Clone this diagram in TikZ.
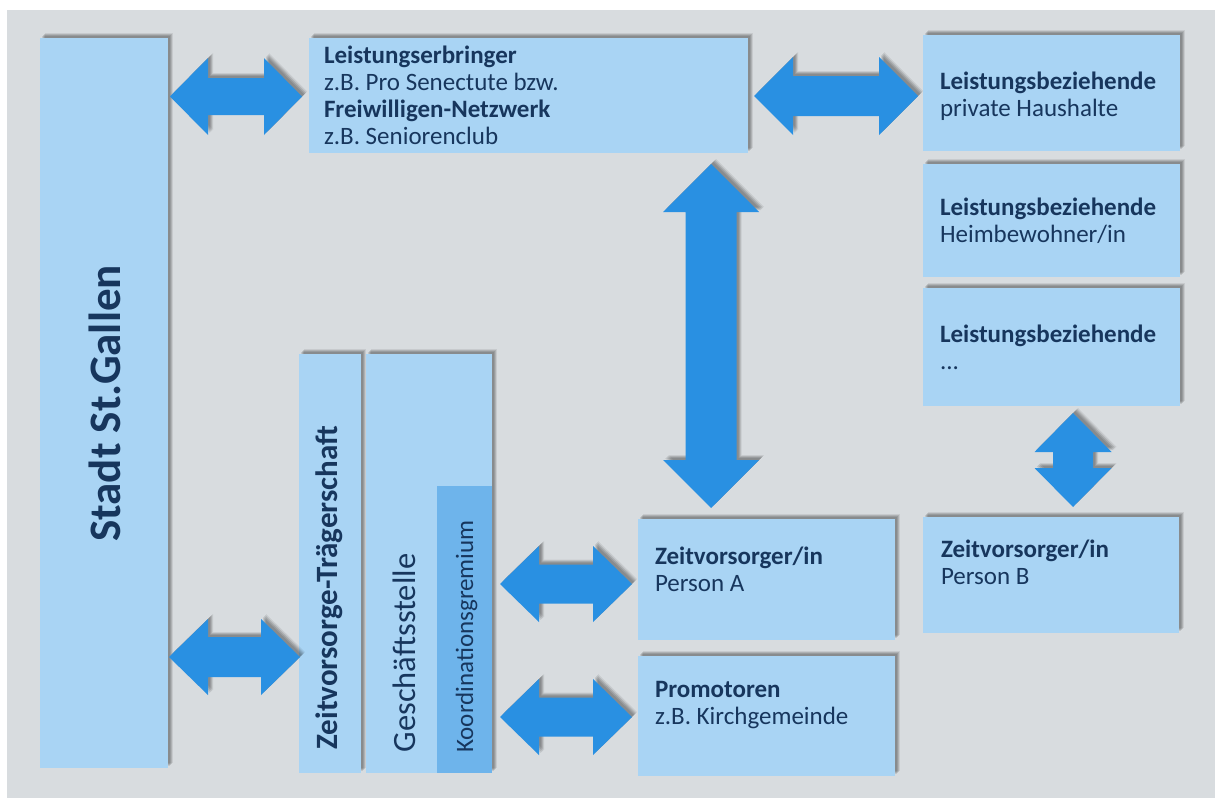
\documentclass[tikz,border=0pt]{standalone}
\usepackage{fontspec}
\setmainfont{Carlito}
\usetikzlibrary{calc}
\definecolor{bggrey}{HTML}{D8DCDF}
\definecolor{boxblue}{HTML}{A9D4F4}
\definecolor{koordblue}{HTML}{6EB4EB}
\definecolor{arrowblue}{HTML}{2990E2}
\definecolor{navy}{HTML}{17365D}
\newcommand{\fstrut}{\rule{0pt}{16pt}}
% horizontal fat double arrow: #1 left tip, #2 right tip, #3 head half width, #4 shaft half width, #5 head length
\newcommand{\fatH}[5]{%
  \fill[fatarrow] (#1) -- ($(#1)+(#5,-#3)$) -- ($(#1)+(#5,-#4)$) -- ($(#2)+(-#5,-#4)$) -- ($(#2)+(-#5,-#3)$) -- (#2)
    -- ($(#2)+(-#5,#3)$) -- ($(#2)+(-#5,#4)$) -- ($(#1)+(#5,#4)$) -- ($(#1)+(#5,#3)$) -- cycle;}
% vertical fat double arrow: #1 top tip, #2 bottom tip
\newcommand{\fatV}[5]{%
  \fill[fatarrow] (#1) -- ($(#1)+(#3,#5)$) -- ($(#1)+(#4,#5)$) -- ($(#2)+(#4,-#5)$) -- ($(#2)+(#3,-#5)$) -- (#2)
    -- ($(#2)+(-#3,-#5)$) -- ($(#2)+(-#4,-#5)$) -- ($(#1)+(-#4,#5)$) -- ($(#1)+(-#3,#5)$) -- cycle;}
\tikzset{
  softshadow/.style={
    preaction={fill=black, fill opacity=0.10, transform canvas={xshift=2pt,yshift=2pt}},
    preaction={fill=black, fill opacity=0.12, transform canvas={xshift=3pt,yshift=3pt}},
    preaction={fill=black, fill opacity=0.12, transform canvas={xshift=4pt,yshift=4pt}},
    preaction={fill=black, fill opacity=0.08, transform canvas={xshift=5pt,yshift=5pt}}},
  box/.style={fill=boxblue, draw=none, inner sep=0pt, outer sep=0pt, anchor=north west, rectangle, softshadow},
  koordbox/.style={fill=koordblue, draw=none, inner sep=0pt, outer sep=0pt, anchor=north west, rectangle},
  fatarrow/.style={fill=arrowblue, softshadow},
  txt/.style={anchor=north west, align=left, inner sep=0pt, outer sep=0pt, text=navy, font=\fontsize{25}{27}\selectfont},
  vlab/.style={rotate=90, anchor=base, inner sep=0pt, outer sep=0pt, text=navy},
}
\begin{document}
\begin{tikzpicture}[x=1pt,y=-1pt]
\useasboundingbox (0,0) rectangle (1215,798);
\fill[white] (0,0) rectangle (1215,798);
\fill[bggrey] (7,10) rectangle (1215,798);

% boxes
\node[box, minimum width=128pt, minimum height=730pt] (stadt) at (40,38) {};
\node[box, minimum width=439pt, minimum height=115pt] (le) at (309,38) {};
\node[box, minimum width=257pt, minimum height=116pt] (lb1) at (923,35) {};
\node[box, minimum width=257pt, minimum height=113pt] (lb2) at (923,164) {};
\node[box, minimum width=257pt, minimum height=118pt] (lb3) at (923,288) {};
\node[box, minimum width=256pt, minimum height=116pt] (pb) at (923,517) {};
\node[box, minimum width=257pt, minimum height=121pt] (pa) at (638,519) {};
\node[box, minimum width=257pt, minimum height=120pt] (promo) at (638,656) {};
\node[box, minimum width=62pt, minimum height=419pt] (traeger) at (299,354) {};
\node[box, minimum width=126pt, minimum height=419pt] (gs) at (366,354) {};
\node[koordbox, minimum width=55pt, minimum height=287pt] (koord) at (437,486) {};

% texts
\node[txt] (tle) at (324,46) {\fstrut\textbf{Leistungserbringer}\\z.B. Pro Senectute bzw.\\\textbf{Freiwilligen-Netzwerk}\\z.B. Seniorenclub};
\node[txt] (tlb1) at (940,72) {\fstrut\textbf{Leistungsbeziehende}\\private Haushalte};
\node[txt] (tlb2) at (940,198) {\fstrut\textbf{Leistungsbeziehende}\\Heimbewohner/in};
\node[txt] (tlb3) at (940,325) {\fstrut\textbf{Leistungsbeziehende}\\...};
\node[txt] (tpa) at (655,547) {\fstrut\textbf{Zeitvorsorger/in}\\Person A};
\node[txt] (tpromo) at (655,681) {\fstrut\textbf{Promotoren}\\z.B. Kirchgemeinde};
\node[txt] (tpb) at (941,540) {\fstrut\textbf{Zeitvorsorger/in}\\Person B};

\node[vlab, font=\bfseries\fontsize{45}{45}\selectfont] (tstadt) at (120,403.5) {Stadt St.Gallen};
\node[vlab, font=\bfseries\fontsize{31}{31}\selectfont] (ttraeger) at (337,587.5) {Zeitvorsorge-Trägerschaft};
\node[vlab, font=\fontsize{32.5}{32.5}\selectfont] (tgs) at (415,653) {Geschäftsstelle};
\node[vlab, font=\fontsize{25}{25}\selectfont] (tkoord) at (473,636.5) {Koordinationsgremium};

% arrow end points
\coordinate (a1l) at (170,96.5);  \coordinate (a1r) at (302,96.5);
\coordinate (a2l) at (754,96);    \coordinate (a2r) at (918,96);
\coordinate (a3t) at (711,164);   \coordinate (a3b) at (711,508);
\coordinate (a4t) at (1073,413);  \coordinate (a4b) at (1073,507);
\coordinate (a5l) at (500,584);   \coordinate (a5r) at (632,584);
\coordinate (a6l) at (500,717);   \coordinate (a6r) at (632,717);
\coordinate (a7l) at (169,657);   \coordinate (a7r) at (300,657);

\fatH{a1l}{a1r}{38.5}{18.5}{38}
\fatH{a2l}{a2r}{39}{20}{39}
\fatV{a3t}{a3b}{48}{25.5}{48}
\fatV{a4t}{a4b}{38.5}{20}{39}
\fatH{a5l}{a5r}{38}{19.5}{39}
\fatH{a6l}{a6r}{38}{19.5}{39}
\fatH{a7l}{a7r}{38}{20}{39}
\end{tikzpicture}
\end{document}
